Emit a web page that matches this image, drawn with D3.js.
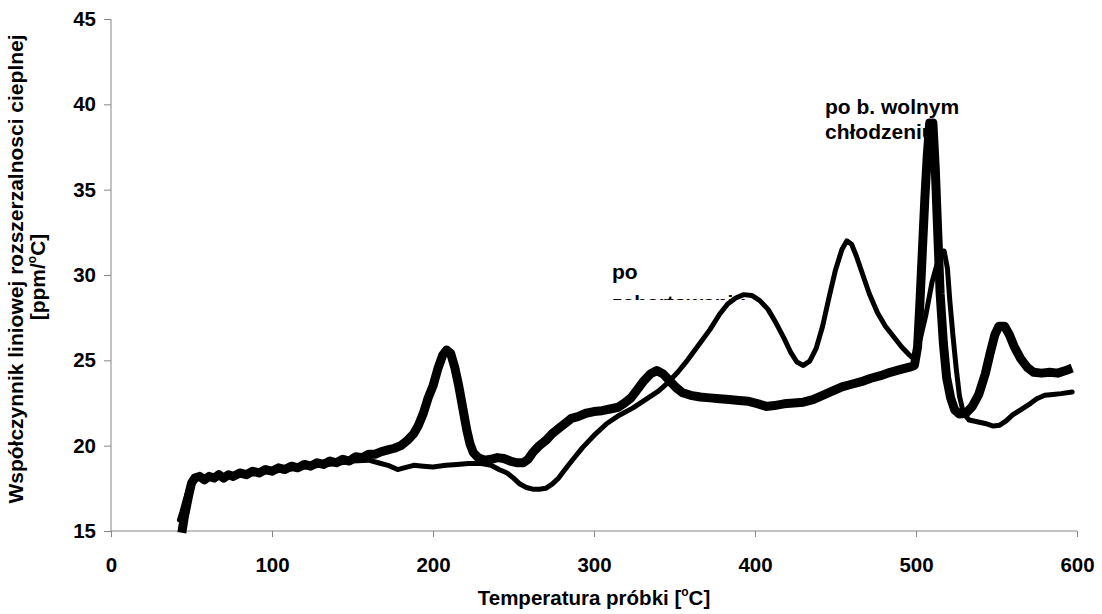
<!DOCTYPE html>
<html>
<head>
<meta charset="utf-8">
<script src="https://cdn.jsdelivr.net/npm/d3@7"></script>
<style>
  html, body { margin: 0; padding: 0; background: #fff; }
  svg text { font-family: "Liberation Sans", Arial, sans-serif; font-weight: bold; fill: #000; }
</style>
</head>
<body>
<svg id="chart" width="1102" height="614"></svg>
<script>
// Temperature ticks and CTE ticks
const xTicks = [0, 100, 200, 300, 400, 500, 600];
const yTicks = [15, 20, 25, 30, 35, 40, 45];

// Sample after very slow cooling: [temperature °C, CTE ppm/°C]
const slowCooled = [
  [44,14.9],[45.5,15.8],[47,16.5],[48.5,17.2],[50,17.8],[52,18.1],[55,18.2],[58,18.0],
  [61,18.2],[64,18.1],[67,18.3],[70,18.1],[73,18.3],[76,18.2],[80,18.4],[84,18.3],
  [88,18.5],[92,18.4],[96,18.6],[100,18.5],[104,18.7],[108,18.6],[112,18.8],[116,18.7],
  [120,18.9],[124,18.8],[128,19.0],[132,18.9],[136,19.1],[140,19.0],[144,19.2],[148,19.1],
  [152,19.35],[156,19.3],[160,19.5],[164,19.5],[168,19.65],[172,19.75],[176,19.85],[180,20.0],
  [184,20.3],[188,20.7],[191,21.2],[194,21.9],[197,22.8],[200,23.5],[203,24.5],[206,25.3],
  [208.5,25.6],[211,25.4],[213.5,24.6],[216,23.5],[218.5,22.2],[221,20.9],[223,20.1],[225,19.6],
  [228,19.3],[232,19.15],[236,19.2],[240,19.3],[244,19.25],[248,19.1],[252,19.0],[256,19.0],
  [259,19.2],[262,19.6],[266,20.0],[270,20.3],[274,20.7],[278,21.0],[282,21.3],[286,21.6],
  [290,21.7],[295,21.9],[300,22.0],[305,22.05],[310,22.15],[315,22.25],[319,22.5],[323,22.8],
  [327,23.3],[331,23.8],[335,24.2],[339,24.4],[343,24.2],[347,23.8],[351,23.4],[355,23.1],
  [360,22.95],[366,22.85],[372,22.8],[378,22.75],[384,22.7],[390,22.65],[396,22.6],[402,22.45],
  [407,22.3],[412,22.35],[418,22.45],[424,22.5],[430,22.55],[436,22.7],[442,22.95],[448,23.2],
  [454,23.45],[460,23.6],[466,23.75],[472,23.95],[478,24.1],[484,24.3],[490,24.45],[496,24.6],
  [499,24.7],[501,25.8],[502.5,28.5],[504,31.5],[505.5,34.5],[507,37.0],[508.5,38.9],[510.5,38.9],
  [512,36.2],[513.5,32.5],[515,28.9],[517,26.0],[519,24.0],[521.5,22.8],[524,22.1],[527,21.85],
  [531,21.9],[535,22.3],[539,23.0],[543,24.2],[546,25.4],[549,26.5],[551.5,27.0],[555,27.0],
  [558,26.5],[561,25.8],[565,25.1],[569,24.6],[573,24.3],[578,24.25],[583,24.3],[588,24.25],
  [593,24.4],[597,24.55]
];

// Sample after quenching: [temperature °C, CTE ppm/°C]
const quenched = [
  [42.5,15.65],[44,16.1],[46,16.8],[48,17.4],[50,17.9],[53,18.1],[57,18.15],[62,18.1],
  [70,18.2],[80,18.3],[90,18.4],[100,18.5],[110,18.6],[120,18.75],[130,18.85],[140,18.95],
  [150,19.1],[160,19.15],[166,19.0],[172,18.85],[178,18.6],[182,18.7],[188,18.85],[194,18.8],
  [200,18.75],[208,18.85],[215,18.9],[222,18.95],[230,18.95],[236,18.85],[241,18.6],[246,18.4],
  [250,18.1],[254,17.75],[258,17.55],[262,17.45],[266,17.45],[270,17.5],[274,17.75],[278,18.1],
  [282,18.6],[287,19.2],[293,19.9],[300,20.6],[308,21.3],[316,21.8],[324,22.2],[332,22.7],
  [340,23.2],[346,23.7],[352,24.3],[358,25.0],[365,25.9],[372,26.8],[378,27.7],[383,28.3],
  [388,28.65],[393,28.85],[398,28.8],[403,28.5],[408,28.0],[413,27.2],[418,26.3],[422,25.5],
  [426,24.9],[430,24.7],[434,24.95],[438,25.7],[442,27.0],[446,28.7],[450,30.3],[454,31.5],
  [457,32.0],[460,31.8],[463,31.1],[467,30.0],[471,28.9],[476,27.8],[481,27.0],[486,26.4],
  [491,25.8],[496,25.3],[499,25.05],[502,26.0],[506,27.6],[510,29.6],[513,30.6],[515.5,31.4],
  [517.5,31.4],[519.5,30.4],[521,28.5],[523,26.4],[525,24.5],[527,22.9],[529.5,21.9],[533,21.5],
  [538,21.4],[543,21.3],[548,21.15],[552,21.2],[556,21.45],[560,21.8],[565,22.1],[570,22.4],
  [575,22.75],[580,22.95],[585,23.0],[590,23.05],[597,23.15]
];

const svg = d3.select("#chart");
const m = { left: 111, top: 19, right: 25, bottom: 83 };
const W = 1102, H = 614;

const x = d3.scaleLinear().domain([0, 600]).range([m.left, W - m.right]);
const y = d3.scaleLinear().domain([15, 45]).range([H - m.bottom, m.top]);

const axisColor = "#868686";

// Y axis
const gy = svg.append("g").attr("transform", `translate(${m.left},0)`)
  .call(d3.axisLeft(y).tickValues(yTicks).tickSize(7).tickPadding(8).tickFormat(d3.format("d")));
gy.select(".domain").attr("stroke", axisColor).attr("d", `M0,${y(45)}V${y(15)}`);
gy.selectAll(".tick line").attr("stroke", axisColor);
gy.selectAll(".tick text").style("font-size", "20.5px").attr("font-family", null);

// X axis
const gx = svg.append("g").attr("transform", `translate(0,${y(15)})`)
  .call(d3.axisBottom(x).tickValues(xTicks).tickSize(6).tickPadding(20).tickFormat(d3.format("d")));
gx.select(".domain").attr("stroke", axisColor).attr("d", `M${x(0)},0H${x(600)}`);
gx.selectAll(".tick line").attr("stroke", axisColor);
gx.selectAll(".tick text").style("font-size", "20.5px").attr("font-family", null);

// Axis titles
const xt = svg.append("text").attr("x", (x(0) + x(600)) / 2).attr("y", 605)
  .attr("text-anchor", "middle").style("font-size", "20.5px");
xt.append("tspan").text("Temperatura próbki [");
xt.append("tspan").text("o").style("font-size", "12px").attr("dy", -9);
xt.append("tspan").text("C]").attr("dy", 9);

svg.append("text").attr("transform", "translate(23,269) rotate(-90)")
  .attr("text-anchor", "middle").style("font-size", "21px")
  .text("Współczynnik liniowej rozszerzalnosci cieplnej");
const yt2 = svg.append("text").attr("transform", "translate(45,277) rotate(-90)")
  .attr("text-anchor", "middle").style("font-size", "21px");
yt2.append("tspan").text("[ppm/");
yt2.append("tspan").text("o").style("font-size", "12px").attr("dy", -9);
yt2.append("tspan").text("C]").attr("dy", 9);

// Curve labels in fixed-size boxes
const defs = svg.append("defs");
defs.append("clipPath").attr("id", "clipQ").append("rect")
  .attr("x", 600).attr("y", 250).attr("width", 200).attr("height", 50);
defs.append("clipPath").attr("id", "clipS").append("rect")
  .attr("x", 815).attr("y", 120).attr("width", 110).attr("height", 30);

const lq = svg.append("g").attr("clip-path", "url(#clipQ)");
lq.append("text").attr("x", 612).attr("y", 279).style("font-size", "21px").text("po");
lq.append("text").attr("x", 612).attr("y", 310).style("font-size", "21px").text("zahartowaniu");

svg.append("text").attr("x", 825).attr("y", 114).style("font-size", "21px").text("po b. wolnym");
svg.append("g").attr("clip-path", "url(#clipS)")
  .append("text").attr("x", 825).attr("y", 139).style("font-size", "21px").text("chłodzeniu");

// Curves
const line = d3.line().x(d => x(d[0])).y(d => y(d[1]));

svg.append("path").datum(quenched)
  .attr("fill", "none").attr("stroke", "#000").attr("stroke-width", 5)
  .attr("stroke-linejoin", "round").attr("stroke-linecap", "round")
  .attr("d", line);

svg.append("path").datum(slowCooled)
  .attr("fill", "none").attr("stroke", "#000").attr("stroke-width", 9)
  .attr("stroke-linejoin", "round").attr("stroke-linecap", "butt")
  .attr("d", line);
</script>
</body>
</html>
